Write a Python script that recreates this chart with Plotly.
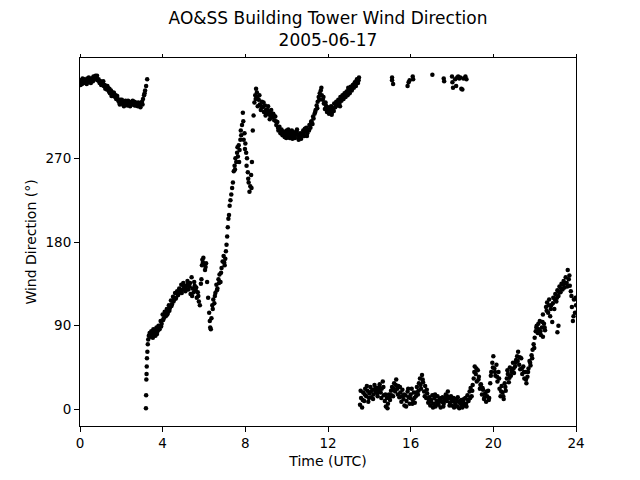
import plotly.graph_objects as go

# Segment A: 00:00-03:15 UTC (hours, degrees)
hours_a = [0.00,0.05,0.10,0.15,0.20,0.25,0.30,0.35,0.40,0.45,0.50,0.55,0.60,0.65,0.70,0.75,0.80,0.85,0.90,0.95,
           1.00,1.05,1.10,1.15,1.20,1.25,1.30,1.35,1.40,1.45,1.50,1.55,1.60,1.65,1.70,1.75,1.80,1.85,1.90,1.95,
           2.00,2.05,2.10,2.15,2.20,2.25,2.30,2.35,2.40,2.45,2.50,2.55,2.60,2.65,2.70,2.75,2.80,2.85,2.90,2.95,
           3.00,3.05,3.10,3.15,3.20,3.25,
           0.025,0.125,0.225,0.325,0.425,0.525,0.625,0.725,0.825,0.925,1.025,1.125,1.225,1.325,1.425,1.525,
           1.625,1.725,1.825,1.925,2.025,2.125,2.225,2.325,2.425,2.525,2.625,2.725,2.825,2.925,3.025,3.125]
dir_a = [352,354,350,353,355,351,353,356,352,354,353,356,355,358,357,359,356,354,355,351,
         353,350,351,348,349,346,344,346,342,340,343,339,337,340,336,334,337,332,330,333,
         329,331,328,330,332,329,327,330,331,328,330,332,329,327,330,328,326,328,327,329,
         331,334,338,343,348,355,
         349,356,352,350,357,351,353,355,359,353,349,353,345,348,345,337,
         341,338,334,328,333,326,331,332,326,328,331,327,330,325,328,340]

# Segment B: 03:11-13:30 UTC
hours_b = [3.19,3.20,3.21,3.22,3.23,3.24,3.26,3.28,3.30,3.33,3.37,3.40,3.45,3.50,3.55,3.60,3.65,3.70,3.75,3.80,
           3.85,3.90,3.95,4.00,4.05,4.10,4.15,4.20,4.25,4.30,4.35,4.40,4.45,4.50,4.55,4.60,4.65,4.70,4.75,4.80,
           4.85,4.90,4.95,5.00,5.05,5.10,5.15,5.20,5.25,5.30,5.35,5.40,5.45,5.50,5.55,5.60,5.65,5.70,5.75,5.80,
           5.85,5.90,5.92,5.95,5.97,6.00,6.05,6.10,6.15,6.20,6.25,6.28,6.30,6.33,6.36,6.40,6.45,6.50,6.55,6.60,
           6.65,6.70,6.75,6.80,6.85,6.90,6.95,7.00,7.03,7.06,7.09,7.12,7.15,7.18,7.21,7.24,7.28,7.32,7.36,7.40,
           7.44,7.48,7.52,7.56,7.60,7.64,7.68,7.72,7.76,7.80,7.84,7.88,7.92,7.96,8.00,8.04,8.08,8.12,8.16,8.20,
           8.24,8.28,8.32,8.36,8.40,8.44,8.48,8.52,8.56,8.60,8.65,8.70,8.75,8.80,8.85,8.90,8.95,9.00,9.05,9.10,
           9.15,9.20,9.25,9.30,9.35,9.40,9.45,9.50,9.55,9.60,9.65,9.70,9.75,9.80,9.85,9.90,9.95,10.00,10.05,10.10,
           10.15,10.20,10.25,10.30,10.35,10.40,10.45,10.50,10.55,10.60,10.65,10.70,10.75,10.80,10.85,10.90,10.95,11.00,11.05,11.10,
           11.15,11.20,11.25,11.30,11.35,11.40,11.45,11.50,11.55,11.60,11.65,11.70,11.75,11.80,11.85,11.90,11.95,12.00,12.05,12.10,
           12.15,12.20,12.25,12.30,12.35,12.40,12.45,12.50,12.55,12.60,12.65,12.70,12.75,12.80,12.85,12.90,12.95,13.00,13.05,13.10,
           13.15,13.20,13.25,13.30,13.35,13.40,13.45,13.50,
           3.425,3.525,3.625,3.725,3.825,3.925,4.025,4.125,4.225,4.325,4.425,4.525,4.625,4.725,4.825,4.925,
           5.025,5.125,5.225,5.325,5.425,5.525,5.625,5.725,5.875,6.075,6.425,6.525,6.625,6.725,6.825,6.975,
           7.50,7.62,7.70,7.78,7.90,7.98,8.06,8.14,8.30,8.50,8.58,8.68,8.78,8.88,8.98,9.08,
           9.18,9.28,9.38,9.48,9.58,9.68,9.78,9.88,9.98,10.08,10.18,10.28,10.38,10.48,10.58,10.68,
           10.78,10.88,10.98,11.08,11.18,11.28,11.38,11.48,11.58,11.68,11.78,11.88,11.98,12.08,12.18,12.28,
           12.38,12.48,12.58,12.68,12.78,12.88,12.98,13.08,13.18,13.28,13.38,13.48]
dir_b = [1,15,32,38,46,55,62,70,75,79,82,78,84,80,86,82,79,88,84,90,
         86,95,92,102,98,105,100,108,104,112,109,117,113,121,118,125,120,127,123,130,
         126,134,129,136,131,127,133,138,129,132,124,142,130,126,133,128,120,126,116,112,
         135,155,161,158,163,156,150,157,137,120,104,95,88,86,98,112,118,114,125,134,
         130,140,145,137,152,159,165,155,162,170,177,186,196,205,209,219,225,231,238,244,
         256,262,270,266,276,272,284,279,290,295,306,319,290,297,286,276,270,255,244,234,
         240,252,266,300,316,330,338,345,341,326,333,328,322,331,325,320,327,322,318,326,
         320,316,322,314,318,311,315,306,309,300,304,297,301,295,299,293,297,300,294,298,
         292,296,300,294,298,292,296,301,295,293,297,291,296,300,294,299,303,297,301,306,
         303,310,307,313,318,322,327,331,336,340,343,338,333,329,323,327,320,325,318,322,
         326,320,324,329,325,331,327,333,329,336,332,338,334,340,336,342,338,344,340,347,
         343,349,346,352,348,355,351,357,
         81,77,85,81,88,89,96,103,102,106,111,116,119,124,127,125,
         133,130,135,136,122,137,131,122,140,153,108,122,128,136,147,158,
         258,282,266,300,310,280,262,248,238,334,336,338,326,330,316,322,
         312,318,316,310,303,300,298,296,292,301,299,291,295,299,290,294,
         297,302,294,300,309,315,320,324,333,346,336,330,322,324,317,321,
         328,330,326,334,337,339,346,343,346,350,353,354]

# Sporadic northerly readings (15-19 UTC)
hours_n = [15.10,15.10,15.15,15.85,15.90,15.95,16.10,16.12,17.05,17.60,17.62,18.00,18.02,18.05,18.15,18.20,18.25,
           18.30,18.35,18.40,18.45,18.50,18.55,18.65,18.70]
dir_n = [357,354,350,348,352,354,358,355,360,356,353,358,352,346,355,348,357,358,356,357,345,344,356,358,355]

# Segment C: 13:33-24:00 UTC
hours_c = [13.55,13.60,13.65,13.70,13.75,13.80,13.85,13.90,13.95,14.00,14.05,14.10,14.15,14.20,14.25,14.30,14.35,14.40,14.45,14.50,
           14.55,14.60,14.65,14.70,14.75,14.80,14.85,14.90,14.95,15.00,15.05,15.10,15.15,15.20,15.25,15.30,15.35,15.40,15.45,15.50,
           15.55,15.60,15.65,15.70,15.75,15.80,15.85,15.90,15.95,16.00,16.05,16.10,16.15,16.20,16.25,16.30,16.35,16.40,16.45,16.50,
           16.55,16.60,16.65,16.70,16.75,16.80,16.85,16.90,16.95,17.00,17.05,17.10,17.15,17.20,17.25,17.30,17.35,17.40,17.45,17.50,
           17.55,17.60,17.65,17.70,17.75,17.80,17.85,17.90,17.95,18.00,18.05,18.10,18.15,18.20,18.25,18.30,18.35,18.40,18.45,18.50,
           18.55,18.60,18.65,18.70,18.75,18.80,18.85,18.90,18.95,19.00,19.05,19.10,19.15,19.20,19.25,19.30,19.35,19.40,19.45,19.50,
           19.55,19.60,19.65,19.70,19.75,19.80,19.85,19.90,19.95,20.00,20.05,20.10,20.15,20.20,20.25,20.30,20.35,20.40,20.45,20.50,
           20.55,20.60,20.65,20.70,20.75,20.80,20.85,20.90,20.95,21.00,21.05,21.10,21.15,21.20,21.25,21.30,21.35,21.40,21.45,21.50,
           21.55,21.60,21.65,21.70,21.75,21.80,21.85,21.90,21.95,22.00,22.05,22.10,22.15,22.20,22.25,22.30,22.35,22.40,22.45,22.50,
           22.55,22.60,22.65,22.70,22.75,22.80,22.85,22.90,22.95,23.00,23.05,23.10,23.15,23.20,23.25,23.30,23.35,23.40,23.45,23.50,
           23.55,23.60,23.65,23.70,23.75,23.80,23.85,23.90,23.95,24.00,22.40,23.10,23.15,
           13.58,13.68,13.78,13.88,13.98,14.08,14.18,14.28,14.38,14.48,14.58,14.68,14.78,14.88,14.98,15.08,
           15.18,15.28,15.38,15.48,15.58,15.68,15.78,15.88,15.98,16.08,16.18,16.28,16.38,16.48,16.58,16.68,
           16.78,16.88,16.98,17.08,17.18,17.28,17.38,17.48,17.58,17.68,17.78,17.88,17.98,18.08,18.18,18.28,
           18.38,18.48,18.58,18.68,18.78,18.88,18.98,19.08,19.18,19.28,19.38,19.48,19.58,19.68,19.78,19.88,
           19.98,20.08,20.18,20.28,20.38,20.48,20.58,20.68,20.78,20.88,20.98,21.08,21.18,21.28,21.38,21.48,
           21.58,21.68,21.78,21.88,21.98,22.08,22.18,22.28,22.38,22.48,22.58,22.68,22.78,22.88,22.98,23.08,
           23.18,23.28,23.38,23.48,23.58,23.68,23.78,23.88,23.98]
dir_c = [5,12,2,18,9,22,14,20,8,17,24,13,21,16,26,19,23,14,20,27,
         18,22,30,15,9,3,12,6,16,10,20,24,14,28,19,32,22,25,13,18,
         8,21,11,4,15,9,19,13,6,16,22,10,18,7,14,24,16,28,33,22,
         37,29,19,25,12,17,7,13,4,10,15,6,12,3,9,14,5,11,2,8,
         13,6,10,16,9,19,12,7,14,4,9,2,7,11,3,8,1,6,10,2,
         7,4,12,3,15,9,19,23,14,26,33,46,38,30,42,35,22,27,16,21,
         11,17,8,14,20,12,28,40,50,57,44,36,48,30,40,22,14,25,18,11,
         28,20,33,38,29,45,36,42,50,39,46,53,57,62,48,43,55,38,46,33,
         40,28,35,44,52,47,58,64,70,77,84,90,82,86,95,80,88,102,92,85,
         110,115,104,118,100,112,94,120,108,124,116,128,122,132,126,135,129,138,131,142,
         136,150,140,133,127,110,95,118,104,112,78,83,90,
         20,10,16,25,12,19,11,22,17,24,12,24,16,1,13,15,
         22,26,16,24,14,16,3,22,12,6,12,18,20,26,32,14,
         21,10,8,2,16,6,9,12,3,12,14,4,10,12,4,13,
         9,4,11,6,10,12,20,40,44,32,26,23,13,19,10,36,
         45,40,35,33,19,14,24,42,34,40,44,50,52,56,44,40,
         32,40,50,55,66,88,92,84,94,88,106,112,108,114,118,120,
         126,130,134,136,132,144,122,100,120]

hours = hours_a + hours_b + hours_n + hours_c
directions = dir_a + dir_b + dir_n + dir_c

x_ticks = [0, 4, 8, 12, 16, 20, 24]
y_ticks = [0, 90, 180, 270]

fig = go.Figure()
fig.add_trace(go.Scatter(
    x=hours, y=directions, mode="markers",
    marker=dict(color="black", size=4.5, line=dict(width=0)),
    showlegend=False, hoverinfo="x+y"))
# invisible trace to carry the top tick axis
fig.add_trace(go.Scatter(x=[0, 24], y=[None, None], xaxis="x2", mode="markers",
                         showlegend=False, hoverinfo="skip"))

font = "DejaVu Sans, sans-serif"
label_font = dict(family=font, size=14, color="black")
fig.update_layout(
    width=640, height=480,
    paper_bgcolor="white", plot_bgcolor="white",
    margin=dict(l=80, r=64, t=58, b=54, autoexpand=False),
    font=dict(family=font, size=13.5, color="black"),
    title=dict(text="AO&SS Building Tower Wind Direction<br>2005-06-17",
               x=0.5, xanchor="center", xref="paper",
               y=1 - 24 / 480, yref="container", yanchor="middle",
               font=dict(family=font, size=17, color="black")),
    xaxis=dict(range=[0, 24], tickvals=x_ticks, ticktext=[str(v) for v in x_ticks],
               showgrid=False, zeroline=False, showline=True, linecolor="black", linewidth=1,
               mirror=True, ticks="outside", ticklen=5, tickcolor="black", automargin=False,
               tickfont=dict(family=font, size=13.5, color="black"),
               title=dict(text="Time (UTC)", standoff=5, font=label_font)),
    xaxis2=dict(range=[0, 24], overlaying="x", side="top", tickvals=x_ticks, showticklabels=False,
                showgrid=False, zeroline=False, showline=False, ticks="outside", ticklen=3,
                tickcolor="black", automargin=False),
    yaxis=dict(range=[-18, 378], tickvals=y_ticks, ticktext=[str(v) for v in y_ticks],
               showgrid=False, zeroline=False, showline=True, linecolor="black", linewidth=1,
               mirror=True, ticks="outside", ticklen=5, tickcolor="black", automargin=False,
               tickfont=dict(family=font, size=13.5, color="black"),
               title=dict(text="Wind Direction (°)", standoff=5, font=label_font)),
)

fig.write_html("out.html", config={"displayModeBar": False},
               post_script="document.body.style.margin='0px';")
